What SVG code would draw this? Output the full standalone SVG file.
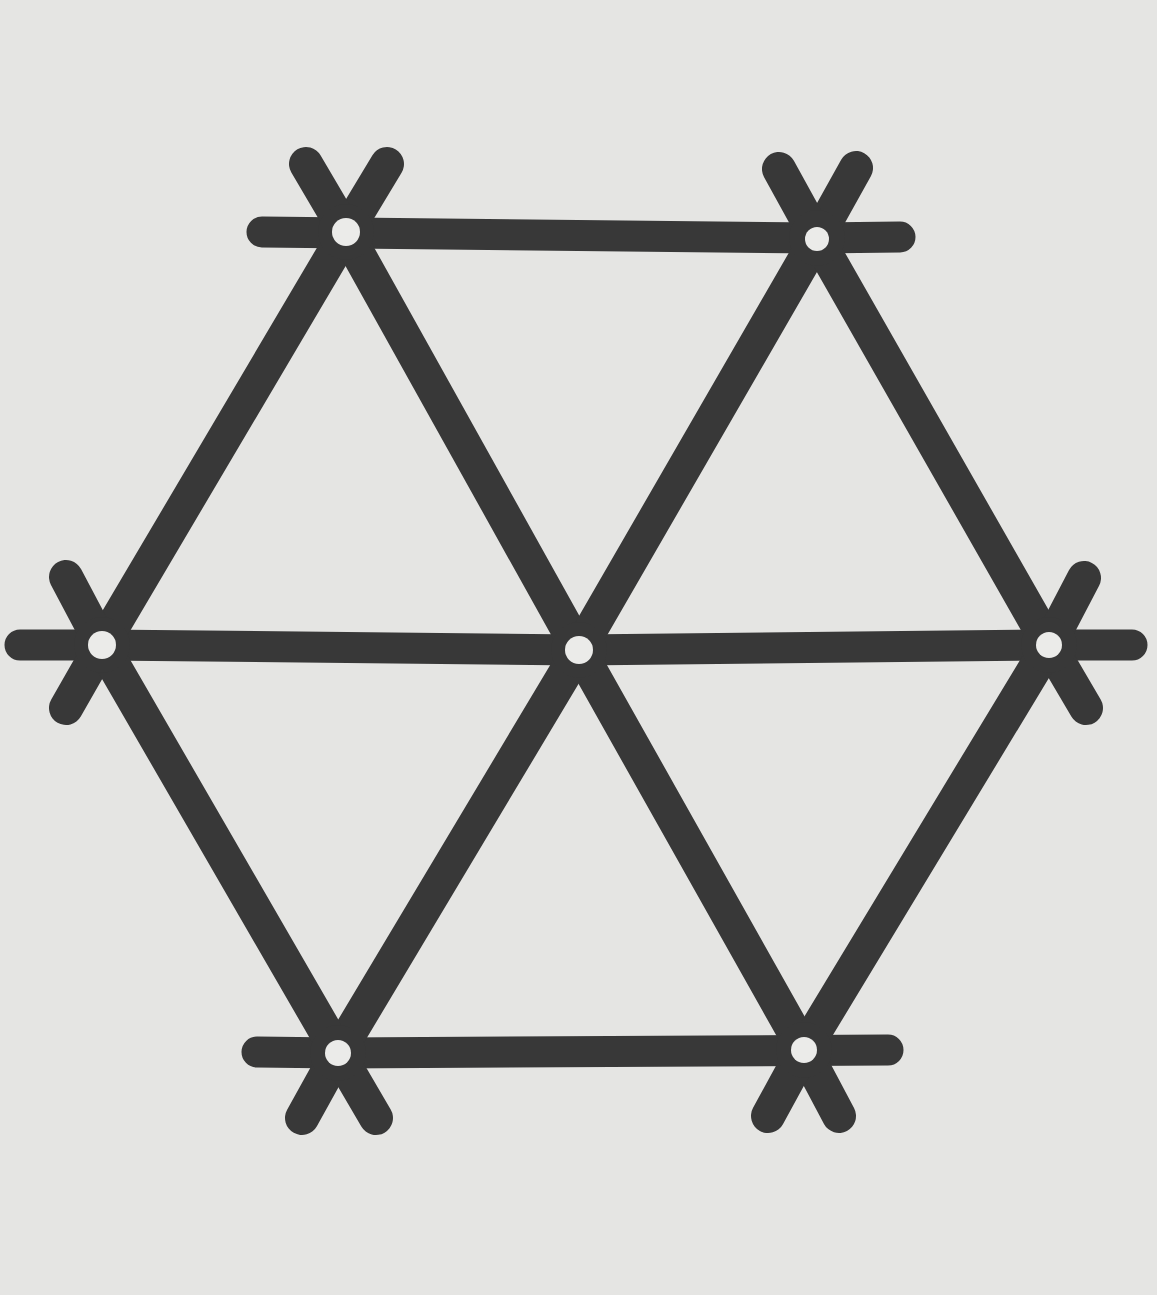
<svg xmlns="http://www.w3.org/2000/svg" width="1157" height="1295" viewBox="0 0 1157 1295">
<style>
.bg{fill:#e5e5e3}
.stick{stroke:#383838;stroke-width:31;stroke-linecap:round;stroke-linejoin:round;fill:none}
.diag{stroke-width:34}
.hub{fill:#383838}
.hole{fill:#ebebe9}
</style>
<rect class="bg" x="0" y="0" width="1157" height="1295"/>
<g id="connectors">
<polyline class="stick" points="262,232 817,238 900,237"/>
<polyline class="stick" points="257,1052 338,1053 888,1050"/>
<polyline class="stick" points="20,645 102,645 579,650 1049,645 1132,645"/>
<polyline class="stick diag" points="387,164 346,232 102,645 66,708"/>
<polyline class="stick diag" points="306,164 346,232 579,650 804,1050 839,1116"/>
<polyline class="stick diag" points="856,168 817,238 579,650 338,1053 302,1118"/>
<polyline class="stick diag" points="779,169 817,238 1049,645 1086,708"/>
<polyline class="stick diag" points="66,577 102,645 338,1053 376,1118"/>
<polyline class="stick diag" points="1084,578 1049,645 804,1050 768,1116"/>
</g>
<g id="node-top-left"><circle class="hub" cx="346" cy="232" r="28"/><circle class="hole" cx="346" cy="232" r="14"/></g>
<g id="node-top-right"><circle class="hub" cx="817" cy="238" r="28"/><circle class="hole" cx="817" cy="239" r="12"/></g>
<g id="node-left"><circle class="hub" cx="102" cy="645" r="28"/><circle class="hole" cx="102" cy="645" r="14"/></g>
<g id="node-center"><circle class="hub" cx="579" cy="650" r="28"/><circle class="hole" cx="579" cy="650" r="14"/></g>
<g id="node-right"><circle class="hub" cx="1049" cy="645" r="28"/><circle class="hole" cx="1049" cy="645" r="13"/></g>
<g id="node-bottom-left"><circle class="hub" cx="338" cy="1053" r="28"/><circle class="hole" cx="338" cy="1053" r="13"/></g>
<g id="node-bottom-right"><circle class="hub" cx="804" cy="1050" r="28"/><circle class="hole" cx="804" cy="1050" r="13"/></g>
</svg>
